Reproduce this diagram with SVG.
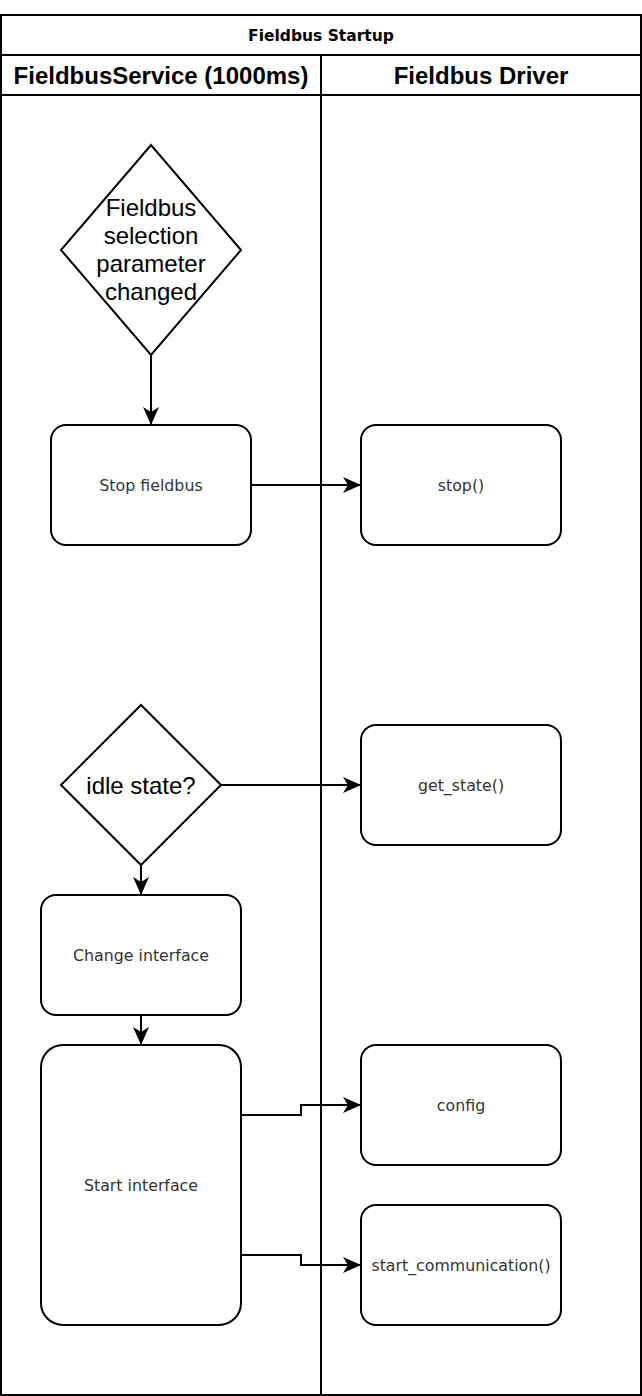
<svg xmlns="http://www.w3.org/2000/svg" width="642" height="1396" viewBox="0 0 642 1396">
<style>
.lane{fill:none;stroke:#000;stroke-width:2}
.shape{fill:#fff;stroke:#000;stroke-width:2}
.conn{fill:none;stroke:#000;stroke-width:2}
.title{font-family:"DejaVu Sans",sans-serif;font-weight:bold;font-size:15.5px;fill:#000;text-anchor:middle}
.hdr{font-family:"Liberation Sans",Arial,sans-serif;font-weight:bold;font-size:24px;fill:#000;text-anchor:middle}
.dtxt{font-family:"Liberation Sans",Arial,sans-serif;font-size:24px;fill:#000;text-anchor:middle}
.btxt{font-family:"DejaVu Sans",sans-serif;font-size:15.8px;fill:#333;text-anchor:middle}
</style>
<defs>
<marker id="arr" viewBox="0 0 18 16" refX="18" refY="8" markerWidth="18" markerHeight="16" markerUnits="userSpaceOnUse" orient="auto">
<path d="M0,0 L18,8 L0,16 L5,8 Z" fill="#000"/>
</marker>
</defs>
<rect width="642" height="1396" fill="#fff"/>
<g id="pool">
<rect class="lane" x="1" y="15" width="640" height="1380"/>
<line class="lane" x1="1" y1="55" x2="641" y2="55"/>
<line class="lane" x1="1" y1="95" x2="641" y2="95"/>
<line class="lane" x1="321" y1="55" x2="321" y2="1395"/>
<text class="title" x="321" y="41">Fieldbus Startup</text>
<text class="hdr" x="161" y="84">FieldbusService (1000ms)</text>
<text class="hdr" x="481" y="84">Fieldbus Driver</text>
</g>
<g id="connectors">
<line class="conn" x1="151" y1="355" x2="151" y2="425" marker-end="url(#arr)"/>
<line class="conn" x1="251" y1="485" x2="361" y2="485" marker-end="url(#arr)"/>
<line class="conn" x1="221" y1="785" x2="361" y2="785" marker-end="url(#arr)"/>
<line class="conn" x1="141" y1="865" x2="141" y2="895" marker-end="url(#arr)"/>
<line class="conn" x1="141" y1="1015" x2="141" y2="1045" marker-end="url(#arr)"/>
<polyline class="conn" points="241,1115 301,1115 301,1105 361,1105" marker-end="url(#arr)"/>
<polyline class="conn" points="241,1255 301,1255 301,1265 361,1265" marker-end="url(#arr)"/>
</g>
<g id="d1">
<polygon class="shape" points="151,145 241,250 151,355 61,250"/>
<text class="dtxt" x="151" y="216">Fieldbus</text>
<text class="dtxt" x="151" y="244">selection</text>
<text class="dtxt" x="151" y="272">parameter</text>
<text class="dtxt" x="151" y="300">changed</text>
</g>
<g id="stopfb">
<rect class="shape" x="51" y="425" width="200" height="120" rx="15"/>
<text class="btxt" x="151" y="490.5">Stop fieldbus</text>
</g>
<g id="stop">
<rect class="shape" x="361" y="425" width="200" height="120" rx="15"/>
<text class="btxt" x="461" y="490.5">stop()</text>
</g>
<g id="d2">
<polygon class="shape" points="141,705 221,785 141,865 61,785"/>
<text class="dtxt" x="141" y="793.5">idle state?</text>
</g>
<g id="getstate">
<rect class="shape" x="361" y="725" width="200" height="120" rx="15"/>
<text class="btxt" x="461" y="790.5">get_state()</text>
</g>
<g id="change">
<rect class="shape" x="41" y="895" width="200" height="120" rx="15"/>
<text class="btxt" x="141" y="960.5">Change interface</text>
</g>
<g id="startif">
<rect class="shape" x="41" y="1045" width="200" height="280" rx="22"/>
<text class="btxt" x="141" y="1190.5">Start interface</text>
</g>
<g id="config">
<rect class="shape" x="361" y="1045" width="200" height="120" rx="15"/>
<text class="btxt" x="461" y="1110.5">config</text>
</g>
<g id="startcomm">
<rect class="shape" x="361" y="1205" width="200" height="120" rx="15"/>
<text class="btxt" x="461" y="1270.5">start_communication()</text>
</g>
</svg>
